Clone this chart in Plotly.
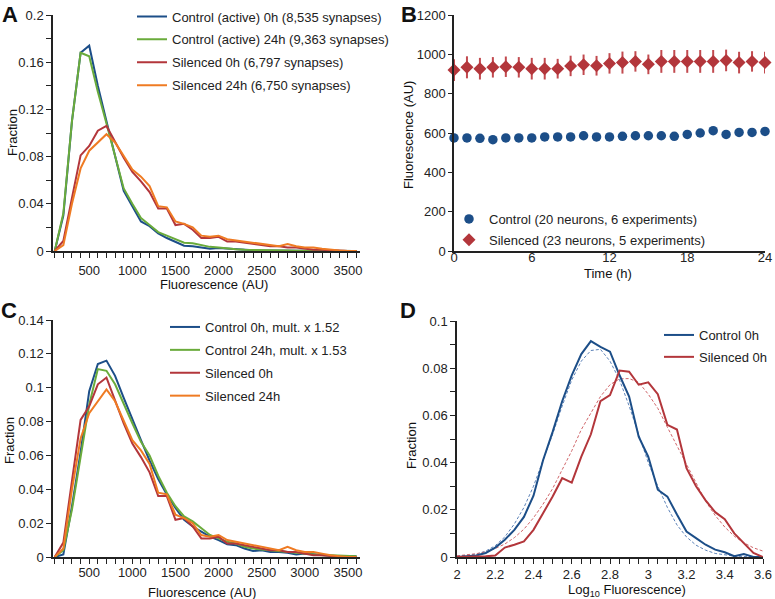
import plotly.graph_objects as go

W, H = 775, 599

# ---------------- Panel A / C : fluorescence histograms ----------------
fluor_bins = [100, 200, 300, 400, 500, 600, 700, 800, 900, 1000, 1100, 1200,
              1300, 1400, 1500, 1600, 1700, 1800, 1900, 2000, 2100, 2200, 2300, 2400,
              2500, 2600, 2700, 2800, 2900, 3000, 3100, 3200, 3300, 3400, 3500, 3600]

ctrl0_A = [0, 0.030, 0.110, 0.168, 0.174, 0.140, 0.110, 0.080, 0.051, 0.038, 0.025, 0.021,
           0.015, 0.011, 0.008, 0.0045, 0.004, 0.003, 0.002, 0.0025, 0.002, 0.001, 0.0008, 0.0006,
           0.0005, 0.0004, 0.0003, 0.0003, 0.0002, 0.0002, 0.0001, 0.0001, 0.0001, 0, 0, 0]
ctrl24_A = [0, 0.032, 0.110, 0.168, 0.165, 0.135, 0.108, 0.080, 0.053, 0.040, 0.028, 0.022,
            0.016, 0.013, 0.010, 0.007, 0.0065, 0.005, 0.0035, 0.003, 0.002, 0.0015, 0.001, 0.001,
            0.0008, 0.0006, 0.0005, 0.0004, 0.0003, 0.0003, 0.0002, 0.0002, 0.0001, 0.0001, 0, 0]
sil0 = [0, 0.0085, 0.045, 0.081, 0.089, 0.102, 0.106, 0.092, 0.079, 0.067, 0.059, 0.050,
        0.036, 0.036, 0.022, 0.023, 0.018, 0.011, 0.011, 0.012, 0.008, 0.008, 0.007, 0.006,
        0.005, 0.004, 0.004, 0.003, 0.003, 0.002, 0.001, 0.001, 0.0005, 0.0002, 0, 0]
sil24 = [0, 0.005, 0.040, 0.070, 0.085, 0.092, 0.099, 0.092, 0.080, 0.069, 0.063, 0.055,
         0.038, 0.037, 0.025, 0.023, 0.020, 0.013, 0.012, 0.013, 0.010, 0.009, 0.008, 0.007,
         0.006, 0.005, 0.004, 0.006, 0.004, 0.003, 0.003, 0.002, 0.001, 0.0005, 0, 0]

ctrl0_C = [0, 0.0015, 0.030, 0.062, 0.098, 0.114, 0.116, 0.107, 0.094, 0.081, 0.069, 0.057,
           0.046, 0.037, 0.029, 0.022, 0.018, 0.015, 0.012, 0.010, 0.0075, 0.007, 0.005, 0.0035,
           0.004, 0.003, 0.003, 0.0025, 0.0015, 0.002, 0.0015, 0.001, 0.0008, 0.0005, 0.0005, 0.0005]
ctrl24_C = [0, 0.004, 0.028, 0.058, 0.090, 0.111, 0.110, 0.102, 0.090, 0.079, 0.068, 0.060,
            0.048, 0.038, 0.030, 0.024, 0.021, 0.017, 0.013, 0.011, 0.009, 0.008, 0.006, 0.005,
            0.0045, 0.004, 0.0035, 0.003, 0.0025, 0.002, 0.0015, 0.001, 0.001, 0.0007, 0.0005, 0.0005]

names_A = ["Control (active) 0h (8,535 synapses)", "Control (active) 24h (9,363 synapses)",
           "Silenced 0h (6,797 synapses)", "Silenced 24h (6,750 synapses)"]
names_C = ["Control 0h, mult. x 1.52", "Control 24h, mult. x 1.53", "Silenced 0h", "Silenced 24h"]

# ---------------- Panel B : time course ----------------
hours = [0, 1, 2, 3, 4, 5, 6, 7, 8, 9, 10, 11, 12, 13, 14, 15, 16, 17, 18, 19, 20, 21, 22, 23, 24]
ctrl_B = [575, 575, 573, 566, 575, 575, 575, 580, 580, 580, 586, 580, 580, 583, 586, 586,
          586, 583, 593, 600, 612, 593, 603, 603, 608]
ctrl_B_err = [15, 15, 18, 15, 15, 15, 15, 15, 15, 15, 15, 15, 15, 15, 15, 15,
              15, 15, 15, 15, 15, 15, 15, 15, 15]
sil_B = [920, 934, 927, 934, 937, 934, 927, 927, 927, 941, 947, 942, 954, 958, 964, 949,
         964, 964, 964, 964, 964, 969, 958, 964, 958]
sil_B_err = [55, 56, 55, 52, 52, 52, 55, 55, 50, 52, 52, 50, 52, 56, 52, 50,
             58, 58, 58, 58, 58, 55, 55, 52, 55]
names_B = ["Control (20 neurons, 6 experiments)", "Silenced (23 neurons, 5 experiments)"]

# ---------------- Panel D : log10 histograms ----------------
log_bins = [2.0, 2.05, 2.1, 2.15, 2.2, 2.25, 2.3, 2.35, 2.4, 2.45, 2.5, 2.55, 2.6, 2.65, 2.7,
            2.75, 2.8, 2.85, 2.9, 2.95, 3.0, 3.05, 3.1, 3.15, 3.2, 3.25, 3.3, 3.35, 3.4, 3.45,
            3.5, 3.55, 3.6]
ctrl_D = [0, 0.0002, 0.0006, 0.0017, 0.004, 0.0073, 0.0115, 0.017, 0.026, 0.041, 0.053, 0.066,
          0.077, 0.086, 0.0915, 0.089, 0.087, 0.077, 0.068, 0.051, 0.0425, 0.0285, 0.0256, 0.018,
          0.0108, 0.008, 0.0052, 0.0031, 0.002, 0.0003, 0.0013, 0, 0]
sil_D = [0, 0, 0.0003, 0.0003, 0.0006, 0.004, 0.0052, 0.0066, 0.0115, 0.0186, 0.0256, 0.0334,
         0.0315, 0.0425, 0.052, 0.066, 0.0686, 0.079, 0.0785, 0.073, 0.074, 0.069, 0.056, 0.054,
         0.0376, 0.030, 0.024, 0.019, 0.016, 0.010, 0.006, 0.0017, 0]
ctrl_D_fit = [0.0003, 0.0006, 0.0012, 0.0025, 0.0048, 0.0085, 0.014, 0.021, 0.030, 0.041, 0.052,
              0.064, 0.075, 0.083, 0.0875, 0.088, 0.083, 0.075, 0.064, 0.052, 0.040, 0.030, 0.021,
              0.0136, 0.0085, 0.005, 0.0029, 0.0015, 0.0008, 0.0004, 0.0002, 0.0001, 0]
sil_D_fit = [0.0005, 0.0008, 0.0014, 0.0022, 0.0036, 0.0055, 0.0082, 0.0118, 0.0166, 0.0224,
             0.029, 0.037, 0.045, 0.054, 0.061, 0.068, 0.073, 0.0755, 0.0756, 0.074, 0.069, 0.063,
             0.055, 0.047, 0.039, 0.031, 0.0236, 0.0176, 0.0127, 0.0088, 0.006, 0.0039, 0.0025]
names_D = ["Control 0h", "Silenced 0h"]

# ---------------- styling ----------------
BLUE = "#1C4E88"
GREEN = "#6AAB3B"
RED = "#B3363B"
ORANGE = "#EF7B23"
AX = "#222222"
FONT = "Arial, Liberation Sans, sans-serif"


def px_x(p):
    return p / W


def px_y(p):
    return 1 - p / H


fig = go.Figure()


def add_lines(xs, series, names, colors, xa, ya, legend):
    for i, (ys, nm, col) in enumerate(zip(series, names, colors)):
        fig.add_trace(go.Scatter(x=xs, y=ys, mode="lines", name=nm,
                                 line=dict(color=col, width=2),
                                 xaxis=xa, yaxis=ya, legend=legend,
                                 legendgroup=legend + str(i)))


add_lines(fluor_bins, [ctrl0_A, ctrl24_A, sil0, sil24], names_A,
          [BLUE, GREEN, RED, ORANGE], "x", "y", "legend")

fig.add_trace(go.Scatter(x=hours, y=ctrl_B, mode="markers", name=names_B[0],
                         marker=dict(symbol="circle", size=9.5, color=BLUE),
                         error_y=dict(type="data", array=ctrl_B_err, color=BLUE,
                                      thickness=2, width=0),
                         xaxis="x2", yaxis="y2", legend="legend2", legendgroup="b0",
                         cliponaxis=False))
fig.add_trace(go.Scatter(x=hours, y=sil_B, mode="markers", name=names_B[1],
                         marker=dict(symbol="diamond", size=10, color=RED),
                         error_y=dict(type="data", array=sil_B_err, color="#C24A4F",
                                      thickness=2, width=0),
                         xaxis="x2", yaxis="y2", legend="legend2", legendgroup="b1",
                         cliponaxis=False))

add_lines(fluor_bins, [ctrl0_C, ctrl24_C, sil0, sil24], names_C,
          [BLUE, GREEN, RED, ORANGE], "x3", "y3", "legend3")

fig.add_trace(go.Scatter(x=log_bins, y=ctrl_D_fit, mode="lines", showlegend=False,
                         line=dict(color="#5C82B8", width=1, dash="3px,2px"),
                         xaxis="x4", yaxis="y4"))
fig.add_trace(go.Scatter(x=log_bins, y=sil_D_fit, mode="lines", showlegend=False,
                         line=dict(color="#D0666A", width=1, dash="3px,2px"),
                         xaxis="x4", yaxis="y4"))
add_lines(log_bins, [ctrl_D, sil_D], names_D, [BLUE, RED], "x4", "y4", "legend4")

tickfont = dict(family=FONT, size=13, color=AX)
common = dict(showline=True, linecolor=AX, linewidth=1.5, showgrid=False, zeroline=False,
              ticks="outside", tickcolor=AX, ticklen=5, tickwidth=1.2, tickfont=tickfont,
              automargin=False)

dom_top = [px_y(251), px_y(15)]
dom_bot = [px_y(557), px_y(320)]

fig.update_layout(
    width=W, height=H, margin=dict(l=0, r=0, t=0, b=0, pad=0, autoexpand=False),
    paper_bgcolor="white", plot_bgcolor="white",
    font=dict(family=FONT, size=13, color=AX),
    xaxis=dict(domain=[px_x(53), px_x(360)], range=[80, 3640], anchor="y",
               tickvals=[500, 1000, 1500, 2000, 2500, 3000, 3500], ticklabelstandoff=2,
               minor=dict(dtick=100, tick0=0, ticklen=5, ticks="outside", tickcolor=AX),
               **common),
    yaxis=dict(domain=dom_top, range=[0, 0.2], anchor="x", dtick=0.04,
               minor=dict(dtick=0.02, ticklen=5, ticks="outside", tickcolor=AX), **common),
    xaxis2=dict(domain=[px_x(454), px_x(765)], range=[0, 24], anchor="y2",
                tickvals=[0, 6, 12, 18, 24], ticklabelstandoff=-6,
                **{**common, "ticks": "", "ticklen": 0}),
    yaxis2=dict(domain=dom_top, range=[0, 1200], anchor="x2", dtick=200,
                **{**common, "ticklen": 4}),
    xaxis3=dict(domain=[px_x(53), px_x(360)], range=[80, 3640], anchor="y3",
                tickvals=[500, 1000, 1500, 2000, 2500, 3000, 3500], ticklabelstandoff=-2,
                minor=dict(dtick=100, tick0=0, ticklen=5, ticks="outside", tickcolor=AX),
                **common),
    yaxis3=dict(domain=dom_bot, range=[0, 0.14], anchor="x3", dtick=0.02, **common),
    xaxis4=dict(domain=[px_x(457), px_x(763)], range=[2, 3.6], anchor="y4", dtick=0.2,
                ticklabelstandoff=0,
                minor=dict(dtick=0.05, ticklen=5, ticks="outside", tickcolor=AX), **common),
    yaxis4=dict(domain=[px_y(557), px_y(321)], range=[0, 0.1], anchor="x4", dtick=0.02,
                minor=dict(dtick=0.01, ticklen=5, ticks="outside", tickcolor=AX), **common),
)

leg_common = dict(bgcolor="rgba(0,0,0,0)", borderwidth=0, font=dict(family=FONT, size=13, color=AX),
                  xanchor="left", yanchor="top", itemwidth=30, itemclick=False)
fig.update_layout(
    legend=dict(x=px_x(132), y=px_y(1.5), tracegroupgap=3, **leg_common),
    legend2=dict(x=px_x(449), y=px_y(204), tracegroupgap=1, **leg_common),
    legend3=dict(x=px_x(165), y=px_y(312), tracegroupgap=3, **leg_common),
    legend4=dict(x=px_x(659), y=px_y(320), tracegroupgap=2, **leg_common),
)


def ann(text, x, y, size=13, bold=False, angle=0):
    fig.add_annotation(text=("<b>%s</b>" % text) if bold else text, x=px_x(x), y=px_y(y),
                       xref="paper", yref="paper", showarrow=False, textangle=angle,
                       xanchor="center", yanchor="middle",
                       font=dict(family=FONT, size=size, color="#111111"))


ann("A", 10, 14, size=22, bold=True)
ann("B", 409, 14, size=22, bold=True)
ann("C", 9, 310, size=22, bold=True)
ann("D", 408, 310, size=22, bold=True)

ann("Fraction", 12, 133, angle=-90)
ann("Fluorescence (AU)", 214, 284)
ann("Fluorescence (AU)", 408, 135, angle=-90)
ann("Time (h)", 608, 274)
ann("Fraction", 9, 441, angle=-90)
ann("Fluorescence (AU)", 202, 592)
ann("Fraction", 411, 445, angle=-90)
ann("Log<sub>10</sub> Fluorescence)", 627, 590)

fig.write_html("out.html", config={"displayModeBar": False},
               post_script="document.body.style.margin='0';document.body.style.overflow='hidden';")
